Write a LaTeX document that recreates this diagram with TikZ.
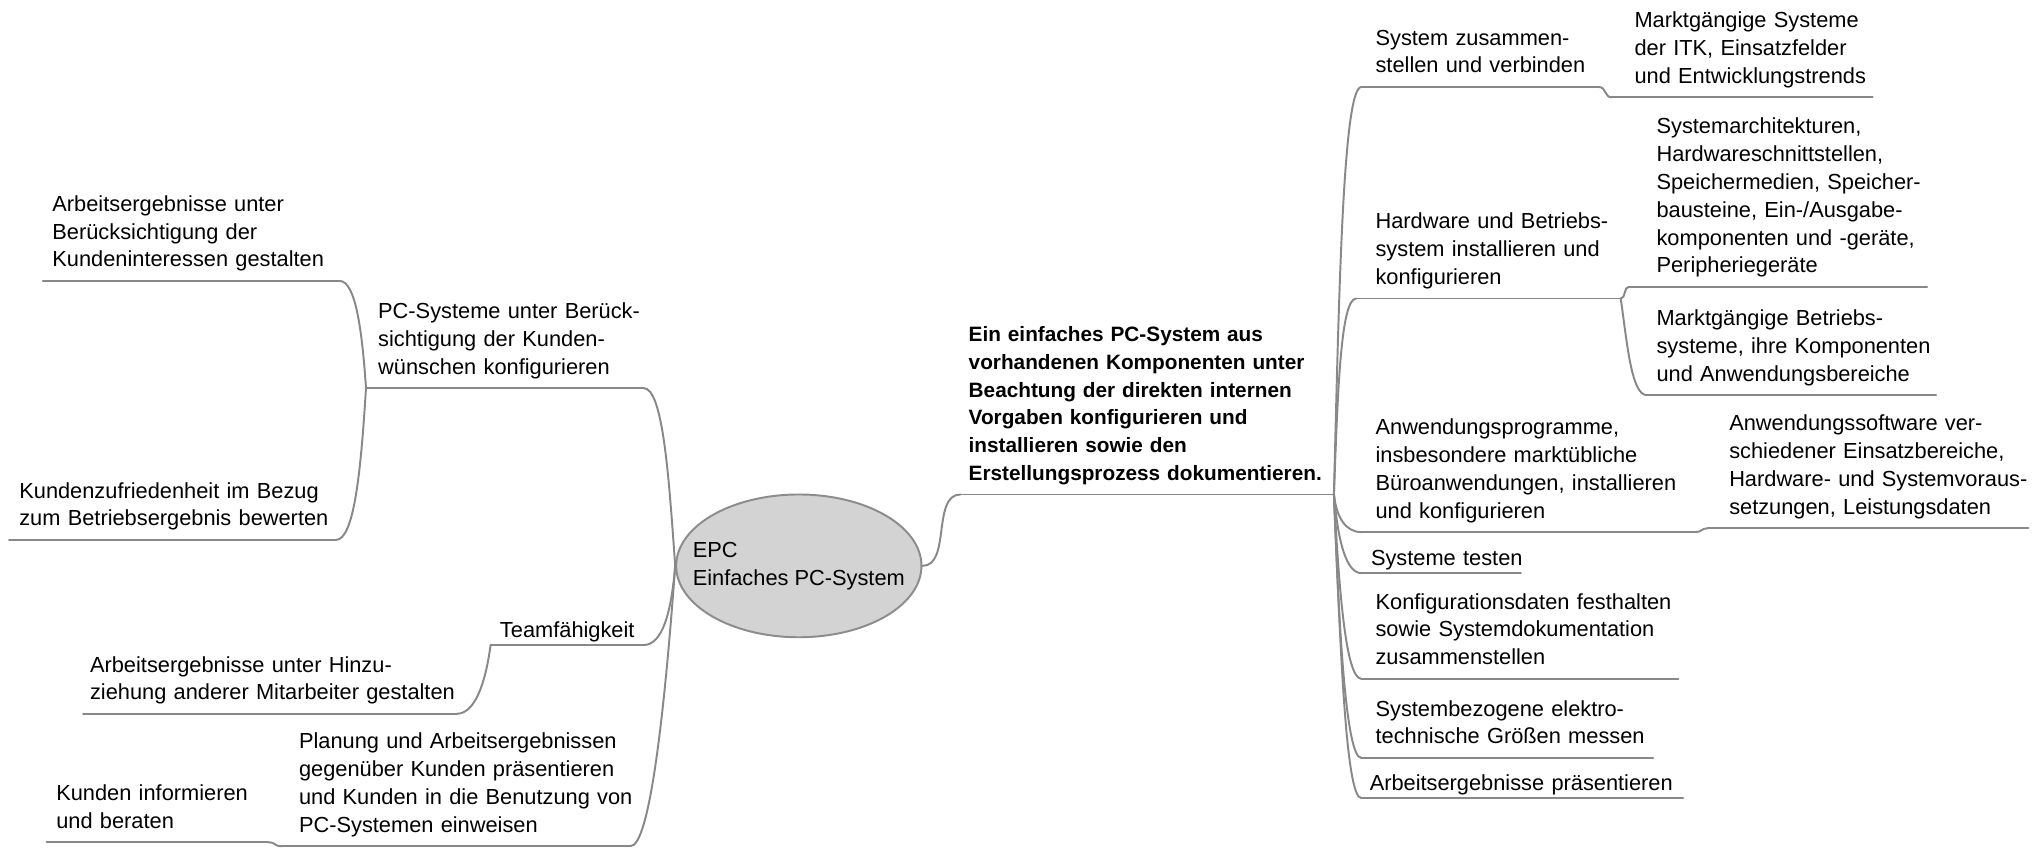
\documentclass[tikz,border=0pt]{standalone}
\usepackage{fontspec}
\setmainfont{Liberation Sans}
\usetikzlibrary{shapes.geometric}

\definecolor{linegray}{RGB}{136,136,136}
\definecolor{hubfill}{RGB}{211,211,211}
\definecolor{hubborder}{RGB}{140,140,140}

\tikzset{
  branch/.style={draw=linegray, line width=0.75pt, line cap=round},
  topic/.style 2 args={anchor=south west, inner xsep=0pt, inner ysep=2pt,
    font=\fontsize{8.4}{10.7}\selectfont, align=left, text width={#1*0.5pt},
    execute at begin node={\leftskip=\dimexpr#2pt/2\relax\rightskip=0pt plus 1fil minus 30pt},
    execute at end node={\strut}},
  rtopic/.style={topic={#1}{0}, align=right,
    execute at begin node={\leftskip=0pt plus 1fil\rightskip=3.25pt}},
  oneline/.style={inner ysep=-0.4pt},
  hubnode/.style={ellipse, draw=hubborder, fill=hubfill, line width=0.75pt,
    minimum width=94.5pt, minimum height=55pt, inner sep=0pt},
  hubtext/.style={align=left, inner sep=0pt, font=\fontsize{8.4}{10.7}\selectfont},
}

\begin{document}
\begin{tikzpicture}[x=0.5pt, y=-0.5pt]
    \useasboundingbox (0,0) rectangle (1568,654);

    % === Centre ===
    \node[hubnode] (epc) at (615.5,436) {};
    \node[hubtext] (epclabel) at (epc.center) {EPC\\Einfaches PC-System};
    \node[topic={287}{6}, font=\fontsize{8}{10.7}\selectfont\bfseries] (goal) at (740,381)
        {Ein einfaches PC-System aus\\vorhandenen Komponenten unter\\Beachtung der direkten internen\\Vorgaben konfigurieren und\\installieren sowie den\\Erstellungsprozess dokumentieren.};

    % === Left: topics ===
    \node[topic={228}{7}] (kint) at (33,216.5) {Arbeitsergebnisse unter\\Berücksichtigung der\\Kundeninteressen gestalten};
    \node[topic={213}{9}] (pcsys) at (282,299) {PC-Systeme unter Berück-\\sichtigung der Kunden-\\wünschen konfigurieren};
    \node[topic={251}{7.5}] (kzuf) at (7,416) {Kundenzufriedenheit im Bezug\\zum Betriebsergebnis bewerten};
    \node[rtopic=117, oneline] (team) at (378,497) {Teamfähigkeit};
    \node[topic={287}{5}] (hinzu) at (64,550) {Arbeitsergebnisse unter Hinzu-\\ziehung anderer Mitarbeiter gestalten};
    \node[topic={268}{13}] (planung) at (217,652) {Planung und Arbeitsergebnissen\\gegenüber Kunden präsentieren\\und Kunden in die Benutzung von\\PC-Systemen einweisen};
    \node[topic={170}{7}] (kinfo) at (36,649) {Kunden informieren\\und beraten};

    % === Right: topics ===
    \node[topic={182}{10.5}] (syszus) at (1049,67) {System zusammen-\\stellen und verbinden};
    \node[topic={200}{17}] (markt) at (1242,75) {Marktgängige Systeme\\der ITK, Einsatzfelder\\und Entwicklungstrends};
    \node[topic={203}{14.5}] (hwbs) at (1045,230) {Hardware und Betriebs-\\system installieren und\\konfigurieren};
    \node[topic={229}{21}] (sysarch) at (1255,221) {Systemarchitekturen,\\Hardwareschnittstellen,\\Speichermedien, Speicher-\\bausteine, Ein-/Ausgabe-\\komponenten und -geräte,\\Peripheriegeräte};
    \node[topic={222}{7}] (bsys) at (1269,304.5) {Marktgängige Betriebs-\\systeme, ihre Komponenten\\und Anwendungsbereiche};
    \node[topic={256.5}{10.5}] (anwprog) at (1049,410) {Anwendungsprogramme,\\insbesondere marktübliche\\Büroanwendungen, installieren\\und konfigurieren};
    \node[topic={246}{16}] (anwsw) at (1316,407) {Anwendungssoftware ver-\\schiedener Einsatzbereiche,\\Hardware- und Systemvoraus-\\setzungen, Leistungsdaten};
    \node[topic={122}{7}, oneline] (testen) at (1049,441.6) {Systeme testen};
    \node[topic={243.5}{10.5}] (konfig) at (1049,523) {Konfigurationsdaten festhalten\\sowie Systemdokumentation\\zusammenstellen};
    \node[topic={224}{10.5}] (messen) at (1049,584) {Systembezogene elektro-\\technische Größen messen};
    \node[topic={247}{6}, oneline] (praes) at (1049,615) {Arbeitsergebnisse präsentieren};

    % Underlines
    \foreach \n in {goal,kint,pcsys,kzuf,team,hinzu,planung,kinfo,syszus,markt,hwbs,sysarch,bsys,anwprog,anwsw,testen,konfig,messen,praes}
        \draw[branch] (\n.south west) -- (\n.south east);

    % === Left branches ===
    \draw[branch] (epc.west) .. controls +(-5,-70) and +(15,0) .. (pcsys.south east);
    \draw[branch] (epc.west) .. controls +(-3,35) and +(15,0) .. (team.south east);
    \draw[branch] (epc.west) .. controls +(-8,110) and +(15,0) .. (planung.south east);
    \draw[branch] (pcsys.south west) .. controls +(-3,-45) and +(12,0) .. (kint.south east);
    \draw[branch] (pcsys.south west) .. controls +(-4,65) and +(14,0) .. (kzuf.south east);
    \draw[branch] (team.south west) .. controls +(-4,30) and +(14,0) .. (hinzu.south east);
    \draw[branch] (planung.south west) .. controls +(-6,0) and +(6,0) .. (kinfo.south east);

    % === Right branches ===
    \draw[branch] (epc.east) .. controls +(22,0) and +(-22,0) .. (goal.south west);
    \draw[branch] (goal.south east) .. controls +(4,-160) and +(-14,0) .. (syszus.south west);
    \draw[branch] (goal.south east) .. controls +(3,-80) and +(-12,0) .. (hwbs.south west);
    \draw[branch] (goal.south east) .. controls +(2,18) and +(-12,0) .. (anwprog.south west);
    \draw[branch] (goal.south east) .. controls +(3,35) and +(-12,0) .. (testen.south west);
    \draw[branch] (goal.south east) .. controls +(4,75) and +(-12,0) .. (konfig.south west);
    \draw[branch] (goal.south east) .. controls +(4,105) and +(-12,0) .. (messen.south west);
    \draw[branch] (goal.south east) .. controls +(5,120) and +(-12,0) .. (praes.south west);
    \draw[branch] (syszus.south east) .. controls +(6,0) and +(-6,0) .. (markt.south west);
    \draw[branch] (hwbs.south east) .. controls +(4,0) and +(-4,0) .. (sysarch.south west);
    \draw[branch] (hwbs.south east) .. controls +(5,35) and +(-12,0) .. (bsys.south west);
    \draw[branch] (anwprog.south east) .. controls +(5,0) and +(-5,0) .. (anwsw.south west);
\end{tikzpicture}
\end{document}
